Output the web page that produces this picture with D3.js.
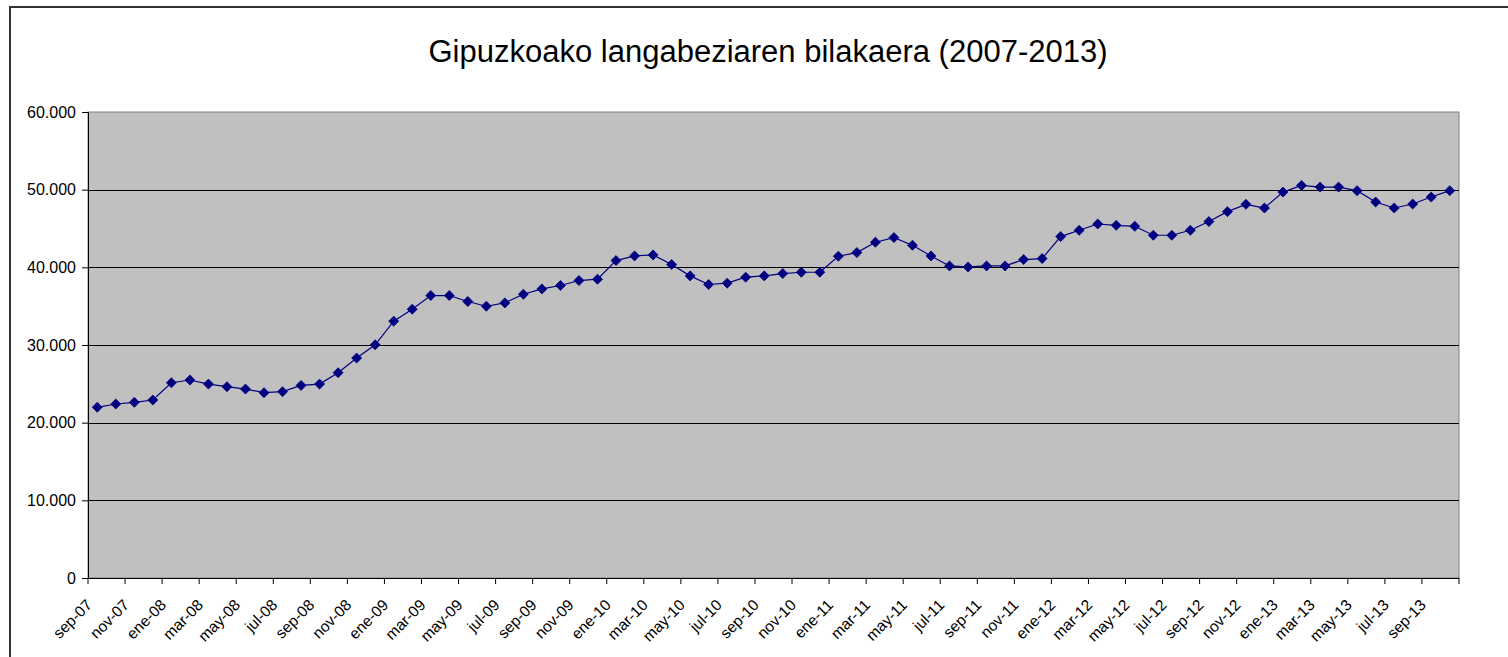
<!DOCTYPE html>
<html>
<head>
<meta charset="utf-8">
<script src="https://cdn.jsdelivr.net/npm/d3@7"></script>
<style>
  body { margin: 0; background: #fff; }
  svg { display: block; font-family: "Liberation Sans", Arial, sans-serif; }
</style>
</head>
<body>
<div id="chart"></div>
<script>
// months, sep-07 .. oct-13
var categories = [
    "sep-07", "oct-07", "nov-07", "dic-07",
    "ene-08", "feb-08", "mar-08", "abr-08", "may-08", "jun-08", "jul-08", "ago-08", "sep-08", "oct-08", "nov-08", "dic-08",
    "ene-09", "feb-09", "mar-09", "abr-09", "may-09", "jun-09", "jul-09", "ago-09", "sep-09", "oct-09", "nov-09", "dic-09",
    "ene-10", "feb-10", "mar-10", "abr-10", "may-10", "jun-10", "jul-10", "ago-10", "sep-10", "oct-10", "nov-10", "dic-10",
    "ene-11", "feb-11", "mar-11", "abr-11", "may-11", "jun-11", "jul-11", "ago-11", "sep-11", "oct-11", "nov-11", "dic-11",
    "ene-12", "feb-12", "mar-12", "abr-12", "may-12", "jun-12", "jul-12", "ago-12", "sep-12", "oct-12", "nov-12", "dic-12",
    "ene-13", "feb-13", "mar-13", "abr-13", "may-13", "jun-13", "jul-13", "ago-13", "sep-13", "oct-13"
];

// unemployed people, Gipuzkoa
var values = [
    21980, 22400, 22620, 22920,
    25140, 25490, 24970, 24630, 24330, 23860, 23990, 24800, 24970, 26430, 28320, 30030,
    33070, 34610, 36370, 36370, 35600, 34990, 35420, 36540, 37220, 37660, 38300, 38470,
    40870, 41470, 41600, 40360, 38900, 37790, 37960, 38730, 38900, 39200, 39370, 39370,
    41430, 41900, 43230, 43830, 42840, 41470, 40180, 40050, 40180, 40180, 41000, 41130,
    43960, 44770, 45580, 45410, 45280, 44130, 44130, 44770, 45890, 47170, 48110, 47640,
    49690, 50550, 50330, 50330, 49870, 48410, 47640, 48150, 49050, 49870
];

var y_ticks = [0, 10000, 20000, 30000, 40000, 50000, 60000];
var title = "Gipuzkoako langabeziaren bilakaera (2007-2013)";

var width = 1508, height = 657;
var margin = {top: 112, right: 49, bottom: 79, left: 88};
var inner_width = width - margin.left - margin.right;
var inner_height = height - margin.top - margin.bottom;

var svg = d3.select("#chart").append("svg")
    .attr("width", width)
    .attr("height", height);

// outer chart frame (runs off the right and bottom edges)
svg.append("rect")
    .attr("x", 10).attr("y", 7)
    .attr("width", width + 20).attr("height", height + 20)
    .attr("fill", "white")
    .attr("stroke", "#333")
    .attr("stroke-width", 2);

svg.append("text")
    .attr("x", 768).attr("y", 62)
    .attr("text-anchor", "middle")
    .attr("font-size", "31px")
    .attr("fill", "#000")
    .text(title);

var g = svg.append("g")
    .attr("transform", "translate(" + margin.left + "," + margin.top + ")");

var x_scale = d3.scaleBand()
    .domain(categories)
    .range([0, inner_width])
    .padding(0);

var y_scale = d3.scaleLinear()
    .domain([0, 60000])
    .range([inner_height, 0]);

// plot area
g.append("rect")
    .attr("width", inner_width).attr("height", inner_height)
    .attr("fill", "#c0c0c0")
    .attr("stroke", "#808080")
    .attr("stroke-width", 1);

// gridlines
g.append("g").selectAll("line")
    .data(y_ticks.filter(function(d) {return d > 0 && d < 60000;}))
    .enter().append("line")
    .attr("x1", 0).attr("x2", inner_width)
    .attr("y1", function(d) {return Math.round(y_scale(d)) + 0.5;})
    .attr("y2", function(d) {return Math.round(y_scale(d)) + 0.5;})
    .attr("stroke", "#000")
    .attr("stroke-width", 1);

// y axis
var fmt = function(d) {return d3.format(",")(d).replace(/,/g, ".");};
var y_axis = d3.axisLeft(y_scale)
    .tickValues(y_ticks)
    .tickSize(6)
    .tickPadding(6)
    .tickFormat(fmt);

var y_g = g.append("g").call(y_axis);
y_g.select(".domain").attr("stroke", "#000");
y_g.selectAll(".tick line").attr("stroke", "#000");
y_g.selectAll(".tick text")
    .attr("font-size", "16px")
    .attr("font-family", "Liberation Sans, Arial, sans-serif")
    .attr("fill", "#000");

// x axis: ticks every 2 months on category boundaries
var bw = x_scale.bandwidth();
var tick_idx = d3.range(0, categories.length + 1, 2);
var x_g = g.append("g")
    .attr("transform", "translate(0," + inner_height + ")");

x_g.append("line")
    .attr("x1", 0).attr("x2", inner_width)
    .attr("y1", 0.5).attr("y2", 0.5)
    .attr("stroke", "#000");

x_g.selectAll("line.tk")
    .data(tick_idx)
    .enter().append("line")
    .attr("class", "tk")
    .attr("x1", function(i) {return i * bw;})
    .attr("x2", function(i) {return i * bw;})
    .attr("y1", 0).attr("y2", 6)
    .attr("stroke", "#000");

x_g.selectAll("text")
    .data(tick_idx.filter(function(i) {return i < categories.length;}))
    .enter().append("text")
    .attr("transform", function(i) {
        return "translate(" + (x_scale(categories[i]) + 5) + ",28) rotate(-45)";
    })
    .attr("text-anchor", "end")
    .attr("font-size", "15.5px")
    .attr("fill", "#000")
    .text(function(i) {return categories[i];});

// series line
var line = d3.line()
    .x(function(d, i) {return x_scale(categories[i]) + bw / 2;})
    .y(function(d) {return y_scale(d);});

g.append("path")
    .attr("d", line(values))
    .attr("fill", "none")
    .attr("stroke", "#000080")
    .attr("stroke-width", 1.2);

// diamond markers
var diamond = d3.symbol().type(d3.symbolDiamond2).size(64);
g.append("g").selectAll("path")
    .data(values)
    .enter().append("path")
    .attr("d", diamond)
    .attr("transform", function(d, i) {
        return "translate(" + (x_scale(categories[i]) + bw / 2) + "," + y_scale(d) + ")";
    })
    .attr("fill", "#000080")
    .attr("stroke", "#000080")
    .attr("stroke-width", 0.8);
</script>
</body>
</html>
